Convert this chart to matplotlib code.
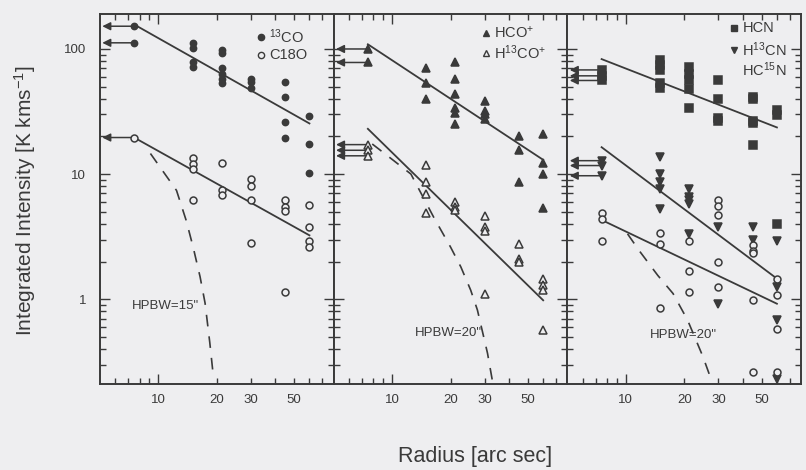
import numpy as np
import matplotlib.pyplot as plt

plt.rcParams['font.family'] = ['Liberation Sans', 'DejaVu Sans']
plt.rcParams['mathtext.default'] = 'regular'

INK = '#3a3a3a'
PAPER = '#eeeef0'

# radii [arc sec] and integrated intensities [K km/s]
co13_r = [7.5, 7.5, 15, 15, 15, 15, 21.2, 21.2, 21.2, 21.2, 21.2, 21.2,
          30, 30, 30, 45, 45, 45, 45, 60, 60, 60]
co13_i = [152, 112, 112, 102, 78, 72, 99, 93, 70, 63, 58, 53,
          58, 54, 49, 54, 41, 26, 19.6, 29, 17.4, 10.2]

c18o_r = [7.5, 15, 15, 15, 15, 21.2, 21.2, 21.2, 30, 30, 30, 30,
          45, 45, 45, 45, 60, 60, 60, 60]
c18o_i = [19.6, 13.5, 12.0, 11.0, 6.2, 12.3, 7.4, 6.8, 9.2, 8.1, 6.2, 2.8,
          6.2, 5.5, 5.1, 1.15, 5.7, 3.8, 2.9, 2.6]

hcop_r = [7.5, 7.5, 15, 15, 15, 21.2, 21.2, 21.2, 21.2, 21.2, 21.2,
          30, 30, 30, 30, 45, 45, 45, 60, 60, 60, 60]
hcop_i = [100, 78, 71, 53, 40, 78, 58, 44, 34, 31, 25,
          38.5, 32, 30, 27.5, 20.3, 15.6, 8.7, 21, 12.2, 10, 5.4]

h13cop_r = [7.5, 7.5, 7.5, 15, 15, 15, 15, 21.2, 21.2, 21.2,
            30, 30, 30, 30, 45, 45, 45, 60, 60, 60, 60]
h13cop_i = [17.2, 15.5, 14.0, 11.8, 8.7, 6.9, 4.9, 6.0, 5.5, 5.2,
            4.6, 3.8, 3.5, 1.1, 2.74, 2.1, 2.0, 1.45, 1.3, 1.18, 0.57]

hcn_r = [7.5, 7.5, 7.5, 15, 15, 15, 15, 15, 21.2, 21.2, 21.2, 21.2, 21.2,
         30, 30, 30, 30, 45, 45, 45, 45, 45, 60, 60, 60]
hcn_i = [68, 61, 56, 82, 75, 68, 53, 49, 72, 63, 56, 48, 34,
         57, 40, 28, 26.7, 41.5, 40, 26.4, 25.6, 17.2, 32.7, 29.7, 4.0]

h13cn_r = [7.5, 7.5, 7.5, 15, 15, 15, 15, 15, 21.2, 21.2, 21.2, 21.2, 21.2,
           30, 30, 45, 45, 60, 60, 60, 60]
h13cn_i = [12.8, 11.7, 9.7, 13.6, 10.1, 8.6, 7.6, 5.3, 7.6, 6.5, 6.2, 5.8, 3.3,
           3.8, 0.92, 3.8, 3.0, 2.9, 1.26, 0.68, 0.23]

hc15n_r = [7.5, 7.5, 7.5, 15, 15, 15, 21.2, 21.2, 21.2, 30, 30, 30, 30, 30,
           45, 45, 45, 45, 45, 60, 60, 60, 60]
hc15n_i = [4.9, 4.4, 2.9, 3.4, 2.75, 0.85, 2.9, 1.67, 1.14, 6.2, 5.6, 4.7, 2.0, 1.25,
           2.7, 2.45, 2.35, 0.98, 0.26, 1.45, 1.08, 0.58, 0.26]

# power-law fits (end points)
fit_r = [7.5, 60]
fit_co13 = [157, 25.4]
fit_c18o = [19.6, 3.24]
fit_hcop = [109, 13]
fit_h13cop = [23, 0.98]
fit_hcn = [83, 23.6]
fit_h13cn = [16.4, 1.46]
fit_hc15n = [4.3, 0.92]

# beam profiles
beam15_r = [9.1, 12.4, 13.9, 15.1, 16.4, 17.4, 18.4, 19.1]
beam15_i = [14.6, 7.4, 4.27, 2.61, 1.51, 0.93, 0.45, 0.26]
beam20a_r = [7.9, 10.2, 12.5, 16.4, 20.0, 22.6, 25.4, 27.5, 31.0, 32.9]
beam20a_i = [17.4, 12.8, 10.0, 4.5, 2.61, 1.81, 1.18, 0.82, 0.37, 0.22]
beam20b_r = [10.2, 11.7, 14.6, 17.5, 20.8, 24.9, 27.9]
beam20b_i = [3.33, 2.45, 1.55, 1.11, 0.68, 0.35, 0.215]


def plot_set(ax, r, i, marker, filled, ms, arrows=True):
    face = INK if filled else PAPER
    ax.plot(r, i, ls='none', marker=marker, ms=ms, mfc=face, mec=INK, mew=1.1,
            zorder=4)
    if arrows:
        r0 = min(r)
        for rr, ii in zip(r, i):
            if rr == r0:
                ax.annotate('', xy=(0.01, ii), xycoords=('axes fraction', 'data'),
                            xytext=(rr, ii), textcoords='data',
                            arrowprops=dict(arrowstyle='-|>', color=INK, lw=1.1,
                                            mutation_scale=12, shrinkA=0, shrinkB=0))


def key(ax, x, y, marker, filled, ms, label):
    if marker:
        ax.plot([x], [y], transform=ax.transAxes, ls='none', marker=marker, ms=ms,
                mfc=INK if filled else PAPER, mec=INK, mew=1.0, clip_on=False)
    ax.text(x + 0.035, y, label, transform=ax.transAxes, fontsize=10.5,
            color=INK, va='center', ha='left')


fig = plt.figure(figsize=(8.06, 4.70), dpi=100, facecolor=PAPER)
axes = [fig.add_axes([0.124 + k * 0.290, 0.183, 0.290, 0.787]) for k in range(3)]

for k, ax in enumerate(axes):
    ax.set_facecolor(PAPER)
    ax.set_xscale('log')
    ax.set_yscale('log')
    ax.set_xlim(5, 80)
    ax.set_ylim(0.21, 190)
    ax.set_xticks([10])
    ax.set_xticks([6, 7, 8, 9, 20, 30, 40, 50, 60, 70], minor=True)
    ax.set_xticklabels(['10'])
    ax.set_xticklabels(['', '', '', '', '20', '30', '', '50', '', ''], minor=True)
    ax.tick_params(which='both', direction='in', top=True, right=True,
                   colors=INK, labelsize=9.5, width=1.0)
    ax.tick_params(which='major', length=7)
    ax.tick_params(which='minor', length=4)
    ax.tick_params(axis='x', which='both', pad=7)
    ax.tick_params(axis='y', which='both', pad=10)
    if k > 0:
        ax.tick_params(axis='y', which='both', labelleft=False)
    else:
        ax.set_yticks([1, 10, 100])
        ax.set_yticklabels(['1', '10', '100'])
        ax.tick_params(axis='y', which='minor', labelleft=False)
    for s in ax.spines.values():
        s.set_color(INK)
        s.set_linewidth(1.4)

line_kw = dict(color=INK, lw=1.3, zorder=3)
dash_kw = dict(color=INK, lw=1.2, dashes=(7, 6), zorder=3)

# 13CO / C18O
ax = axes[0]
ax.plot(fit_r, fit_co13, **line_kw)
ax.plot(fit_r, fit_c18o, **line_kw)
ax.plot(beam15_r, beam15_i, **dash_kw)
plot_set(ax, co13_r, co13_i, 'o', True, 4.5)
plot_set(ax, c18o_r, c18o_i, 'o', False, 5)
key(ax, 0.69, 0.938, 'o', True, 4.5, '$^{13}$CO')
key(ax, 0.69, 0.889, 'o', False, 4.5, 'C18O')
ax.text(0.135, 0.211, 'HPBW=15"', transform=ax.transAxes, fontsize=9.5,
        color=INK, va='center')

# HCO+ / H13CO+
ax = axes[1]
ax.plot(fit_r, fit_hcop, **line_kw)
ax.plot(fit_r, fit_h13cop, **line_kw)
ax.plot(beam20a_r, beam20a_i, **dash_kw)
plot_set(ax, hcop_r, hcop_i, '^', True, 5.5)
plot_set(ax, h13cop_r, h13cop_i, '^', False, 5.5)
key(ax, 0.653, 0.949, '^', True, 5, 'HCO$^{+}$')
key(ax, 0.653, 0.895, '^', False, 5, 'H$^{13}$CO$^{+}$')
ax.text(0.346, 0.138, 'HPBW=20"', transform=ax.transAxes, fontsize=9.5,
        color=INK, va='center')

# HCN / H13CN / HC15N
ax = axes[2]
ax.plot(fit_r, fit_hcn, **line_kw)
ax.plot(fit_r, fit_h13cn, **line_kw)
ax.plot(fit_r, fit_hc15n, **line_kw)
ax.plot(beam20b_r, beam20b_i, **dash_kw)
plot_set(ax, hcn_r, hcn_i, 's', True, 6)
plot_set(ax, h13cn_r, h13cn_i, 'v', True, 5.5)
plot_set(ax, hc15n_r, hc15n_i, 'o', False, 5, arrows=False)
key(ax, 0.713, 0.962, 's', True, 4.5, 'HCN')
key(ax, 0.713, 0.903, 'v', True, 4.5, 'H$^{13}$CN')
key(ax, 0.713, 0.849, None, False, 4.5, 'HC$^{15}$N')
ax.text(0.353, 0.132, 'HPBW=20"', transform=ax.transAxes, fontsize=9.5,
        color=INK, va='center')

fig.text(0.031, 0.574, 'Integrated Intensity [K kms$^{-1}$]', rotation=90,
         ha='center', va='center', fontsize=15, color=INK)
fig.text(0.59, 0.028, 'Radius [arc sec]', ha='center', va='center',
         fontsize=15.5, color=INK)

fig.savefig('out.png', dpi=100, facecolor=PAPER)
